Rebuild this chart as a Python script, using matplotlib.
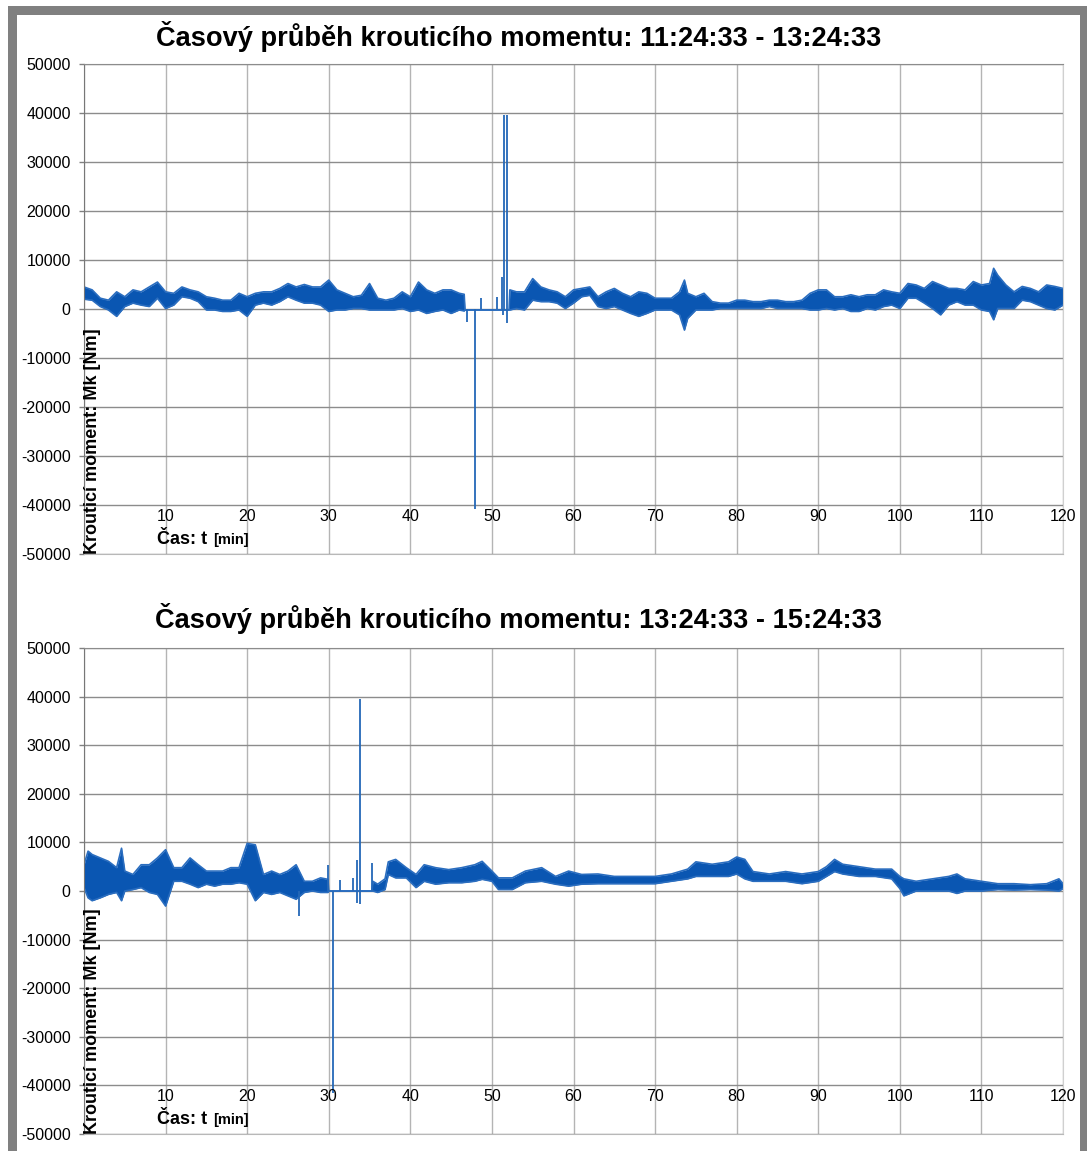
import matplotlib.pyplot as plt
from matplotlib.patches import Rectangle

plt.rcParams['font.family'] = ['Liberation Sans', 'DejaVu Sans']
plt.rcParams['axes.unicode_minus'] = False

titles = ['Časový průběh krouticího momentu: 11:24:33 - 13:24:33',
          'Časový průběh krouticího momentu: 13:24:33 - 15:24:33']
ylab = 'Krouticí moment: Mk [Nm]'
y_ticks = [-50000, -40000, -30000, -20000, -10000, 0, 10000, 20000, 30000, 40000, 50000]
x_ticks = [10, 20, 30, 40, 50, 60, 70, 80, 90, 100, 110, 120]

# panel 1: envelope of the torque signal (upper / lower)
t1 = [0, 1, 2, 3, 4, 5, 6, 7, 8, 9, 10, 11, 12, 13, 14, 15, 16, 17, 18, 19, 20,
      21, 22, 23, 24, 25, 26, 27, 28, 29, 30, 31, 32, 33, 34, 35, 36, 37, 38, 39, 40,
      41, 42, 43, 44, 45, 46, 46.6, 46.7, 52.1, 52.2, 53, 54, 55, 56, 57, 58, 59, 60,
      61, 62, 63, 64, 65, 66, 67, 68, 69, 70, 71, 72, 73, 73.6, 74, 75, 76, 77, 78, 79, 80,
      81, 82, 83, 84, 85, 86, 87, 88, 89, 90, 91, 92, 93, 94, 95, 96, 97, 98, 99, 100,
      101, 102, 103, 104, 105, 106, 107, 108, 109, 110, 111, 111.5, 112, 113, 114, 115,
      116, 117, 118, 119, 120]
hi1 = [4500, 3900, 2200, 1800, 3500, 2500, 3900, 3500, 4500, 5500, 3500, 3200, 4500, 3900, 3500, 2500, 2200, 1800, 1800, 3200, 2500,
       3200, 3500, 3500, 4200, 5200, 4500, 5000, 4500, 4500, 5900, 3900, 3200, 2500, 2800, 5200, 2200, 1800, 2200, 3500, 2500,
       5500, 3900, 3200, 3900, 3900, 3200, 3000, -200, -200, 3900, 3500, 3500, 6200, 4500, 3900, 3500, 2500, 3900,
       4200, 4500, 2500, 3500, 4200, 3200, 2500, 3500, 3200, 2200, 2200, 2200, 3500, 5900, 3200, 2500, 3200, 1500, 1200, 1200, 1800,
       1800, 1500, 1500, 1800, 1800, 1500, 1500, 1800, 3200, 3900, 3900, 2500, 2500, 2900, 2500, 2900, 2900, 3900, 3500, 3200,
       5200, 4900, 4200, 5600, 4900, 4200, 4200, 3900, 5600, 4900, 5200, 8300, 6900, 4900, 3500, 4600,
       4200, 3500, 4900, 4600, 4200]
lo1 = [2000, 1800, 500, -200, -1500, 500, 1200, 800, 500, 2200, 100, 800, 2500, 2200, 1500, -200, -200, -500, -500, -200, -1500,
       800, 1200, 800, 1500, 2500, 1800, 1200, 1200, 800, -500, -200, -200, 100, 100, -200, -200, -200, -200, 100, -500,
       -200, -900, -500, -200, -900, -200, -400, -200, -200, -200, 100, -200, 1800, 1500, 1500, 1200, 100, 1200,
       2500, 2800, 500, 100, 500, -200, -900, -1500, -900, -200, -200, -200, -1200, -4300, -1900, -200, -200, -200, 100, 100, 100,
       100, 100, 100, 500, 100, 100, 100, 100, -200, -200, 100, -200, 100, -500, -500, 100, -200, 500, 800, 100,
       2200, 2200, 1200, 100, -1200, 800, 1500, 800, 800, -200, -500, -2200, 100, 100, 100, 1800,
       1500, 800, 100, -200, 800]
sp1_t = [46.9, 47.9, 48.7, 50.6, 51.2, 51.3, 51.5, 51.8]
sp1_lo = [-2600, -40800, 0, 0, 0, -1200, -200, -2900]
sp1_hi = [0, 0, 2200, 2400, 6500, 0, 39500, 39500]

# panel 2
t2 = [0, 0.5, 1, 2, 3, 4, 4.6, 5, 6, 7, 8, 9, 10, 11, 12, 13, 14, 15, 16, 17, 18, 19, 20,
      21, 22, 23, 24, 25, 26, 27, 28, 29, 29.9, 30.0, 35.3, 35.4, 36, 36.9, 37.3, 38.2, 39.5,
      40.7, 41.7, 43.1, 44.7, 46.3, 47.9, 48.8, 50, 50.8, 52.5, 54.1, 56.1, 57.8, 59.4, 61,
      63, 65, 68, 70, 72, 74, 75, 77, 79, 80, 81, 82, 84, 86, 88, 90, 91, 92, 93, 95, 97, 99,
      100, 100.5, 102, 104, 106, 107, 108, 110, 112, 114, 116, 118, 119.5, 120]
hi2 = [5400, 8200, 7500, 6800, 6100, 4800, 8800, 4100, 3400, 5400, 5400, 6800, 8500, 4800, 4800, 6800, 5400, 4100, 4100, 4100, 4800, 4800, 9800,
       9500, 3400, 4100, 3400, 4100, 5400, 2000, 2000, 2700, 2400, 0, 0, 2000, 1400, 2500, 6000, 6500, 4800,
       3400, 5400, 4800, 4400, 4800, 5400, 6100, 4100, 2700, 2700, 4100, 4800, 3000, 4100, 3400,
       3500, 3000, 3000, 3000, 3500, 4500, 6000, 5500, 6000, 7000, 6500, 4000, 3500, 4000, 3500, 4000, 5000, 6500, 5500, 5000, 4500, 4500,
       3000, 2500, 2000, 2500, 3000, 3500, 2500, 2000, 1500, 1500, 1300, 1500, 2500, 1500]
lo2 = [700, -1400, -2000, -1400, -700, -300, -2000, 0, 300, 700, -300, -700, -3100, 2000, 2000, 1400, 700, 1400, 1000, 1400, 1400, 1700, 1400,
       -2000, -300, -700, -300, -1000, -1700, -300, 0, -300, -300, 0, 0, 0, -300, 300, 3400, 2700, 2700,
       700, 2000, 1400, 1700, 1700, 2000, 2400, 2000, 300, 300, 1700, 2000, 1400, 1000, 1400,
       1500, 1500, 1500, 1500, 2000, 2500, 3000, 3000, 3000, 3500, 2500, 2000, 2000, 2000, 1500, 2000, 3000, 4000, 3500, 3000, 3000, 2500,
       500, -1000, 0, 0, 0, -500, 0, 0, 300, 200, 300, 200, 0, 500]
sp2_t = [26.4, 29.9, 30.5, 31.4, 33.0, 33.5, 33.8, 35.3]
sp2_lo = [-5100, 0, -41500, 0, 0, -2400, -2700, 0]
sp2_hi = [0, 5300, 0, 2200, 2600, 6300, 39500, 5800]

blue = '#0a56b2'

fig = plt.figure(figsize=(10.87, 11.51), dpi=100)
W, H = 1087.0, 1151.0

# grey frame strips of the original screenshot
fig.add_artist(Rectangle((8 / W, 0), 9 / W, 1 - 6 / H, transform=fig.transFigure, color='#808080', lw=0))
fig.add_artist(Rectangle((8 / W, 1 - 15 / H), 1 - 8 / W, 9 / H, transform=fig.transFigure, color='#808080', lw=0))
fig.add_artist(Rectangle((1080 / W, 0), 7 / W, 1 - 6 / H, transform=fig.transFigure, color='#808080', lw=0))


def panel(rect, title, title_y, t, hi, lo, sp_t, sp_lo, sp_hi):
    ax = fig.add_axes(rect)
    ax.set_xlim(0, 120)
    ax.set_ylim(-50000, 50000)
    ax.set_yticks(y_ticks)
    ax.set_yticklabels([str(v) for v in y_ticks])
    ax.set_xticks([0] + x_ticks)
    ax.set_xticklabels([])
    ax.tick_params(axis='x', length=0)
    ax.tick_params(axis='y', length=3.6, width=1, color='#808080', pad=6, labelsize=11.5)
    ax.grid(axis='x', color='#b4b4b4', lw=1)
    ax.grid(axis='y', color='#8c8c8c', lw=1)
    ax.set_axisbelow(True)
    ax.spines['left'].set_color('#777777')
    ax.spines['top'].set_color('#8c8c8c')
    ax.spines['bottom'].set_color('#b8b8b8')
    ax.spines['right'].set_color('#d0d0d0')

    ax.fill_between(t, lo, hi, color=blue, lw=0)
    ax.plot(t, hi, color='#2a6dbf', lw=1.2)
    ax.plot(t, lo, color='#2a6dbf', lw=1.2)
    ax.vlines(sp_t, sp_lo, sp_hi, color='#2468b8', lw=1.3)

    for v in x_ticks:
        ax.text(v, -42300, str(v), ha='center', va='center', fontsize=11.5)
    ax.text(8.95, -47100, 'Čas: t', ha='left', va='center', fontsize=13, fontweight='bold')
    ax.text(15.85, -47100, '[min]', ha='left', va='center', fontsize=10.5, fontweight='bold')
    ax.text(0.009, 0.0, ylab, transform=ax.transAxes, rotation=90, ha='center', va='bottom',
            fontsize=13, fontweight='bold')
    fig.text(0.477, title_y, title, ha='center', va='center', fontsize=19.6, fontweight='bold')
    return ax


panel([84 / W, 1 - 554 / H, 979 / W, 490 / H], titles[0], 1 - 37 / H, t1, hi1, lo1, sp1_t, sp1_lo, sp1_hi)
panel([84 / W, 1 - 1134 / H, 979 / W, 486 / H], titles[1], 1 - 618 / H, t2, hi2, lo2, sp2_t, sp2_lo, sp2_hi)

plt.savefig('out.png', dpi=100)
